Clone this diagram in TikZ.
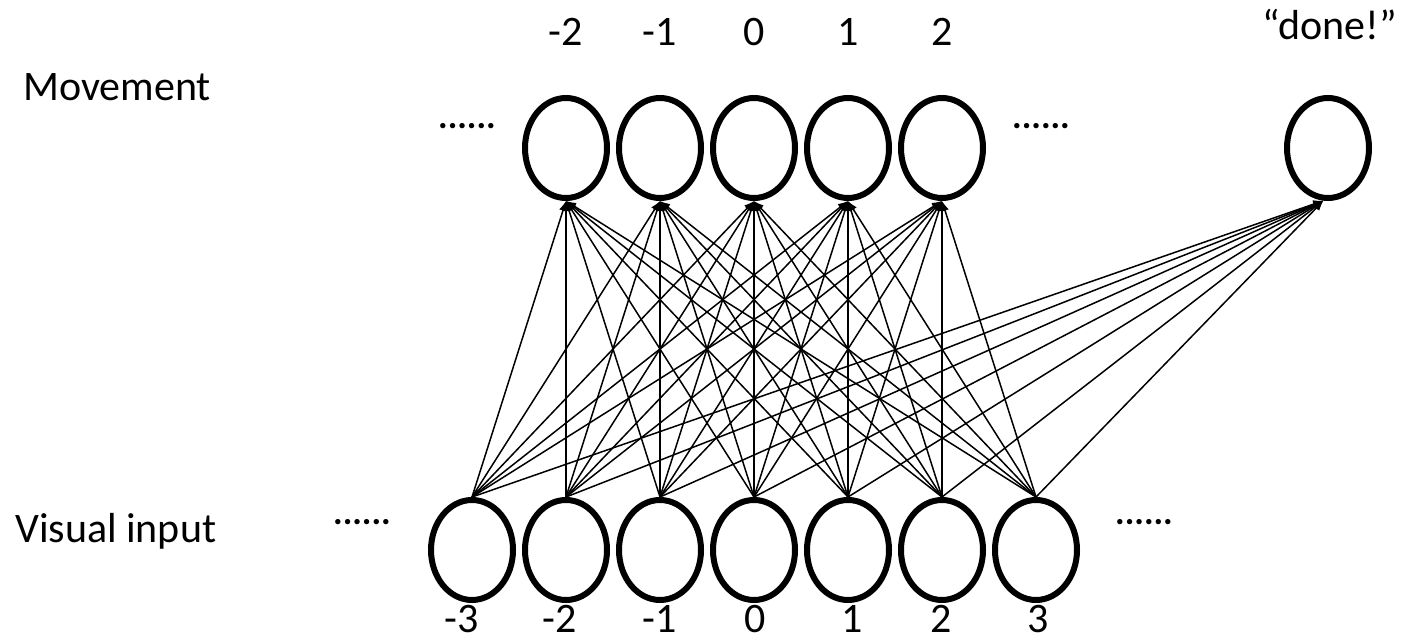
\documentclass[tikz,border=0pt]{standalone}
\usepackage{fontspec}
\setmainfont{Carlito}
\usetikzlibrary{shapes.geometric,arrows.meta}

\begin{document}
\begin{tikzpicture}[x=1pt,y=-1pt,
		unit/.style={ellipse, draw, line width=6pt, minimum width=82pt, minimum height=100pt, inner sep=0pt},
		txt/.style={font=\fontsize{42}{50}\selectfont, inner sep=0pt, anchor=base},
		more/.style={font=\fontsize{36}{40}\selectfont\bfseries, inner sep=0pt, anchor=base},
		link/.style={->, line width=1.5pt},
		>={Latex[length=10pt,width=8pt]}]
		\useasboundingbox (0,0) rectangle (1403,644);
		
		\node[txt, anchor=base west] (mov) at (23,101) {Movement};
		\node[txt, anchor=base west] (vis) at (15,542) {Visual input};
		
		\foreach \n\s in {1/-2, 2/-1, 3/0, 4/1, 5/2}
		{
			\node[unit] (m\n) at (472 + 94 * \n, 148) {};
			\node[txt] (lm\n) at (472 + 94 * \n, 46) {\s};
		}
		\node[unit] (done) at (1328, 148) {};
		\node[txt] (ldone) at (1330, 40) {“done!”};
		
		\foreach \n\s\x in {1/-3/462, 2/-2/560, 3/-1/660, 4/0/755, 5/1/852, 6/2/941, 7/3/1038}
		{
			\node[unit] (v\n) at (378 + 94 * \n, 550) {};
			\node[txt] (lv\n) at (\x, 632) {\s};
		}
		
		\node[more] (dm1) at (467, 129) {......};
		\node[more] (dm2) at (1041, 129) {......};
		\node[more] (dv1) at (362, 524) {......};
		\node[more] (dv2) at (1144, 524) {......};
		
		\foreach \a in {1,...,7}
		{
			\foreach \b in {1,...,5}
			\draw[link] (v\a.north) -- (m\b.south);
			\draw[link] (v\a.north) -- (done.265);
		}
		
	\end{tikzpicture}
\end{document}
